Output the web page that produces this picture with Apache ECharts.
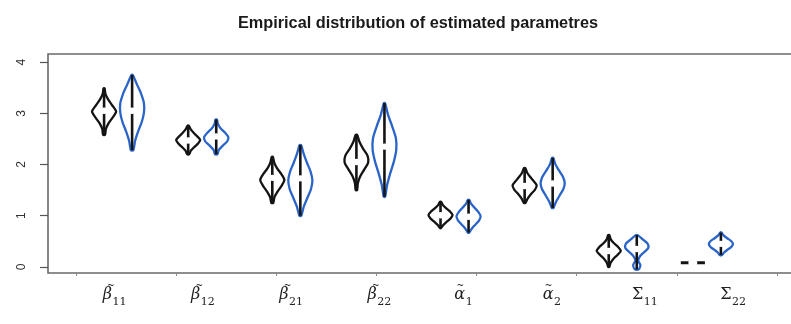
<!DOCTYPE html>
<html>
<head>
<meta charset="utf-8">
<script src="https://cdn.jsdelivr.net/npm/echarts@6/dist/echarts.min.js"></script>
<style>
  html, body { margin: 0; padding: 0; background: #ffffff; overflow: hidden; }
  #chart { width: 830px; height: 324px; }
</style>
</head>
<body>
<div id="chart"></div>
<script>
// Parameter names: symbol, tilde flag and subscript
const paramSymbols = ['β', 'β', 'β', 'β', 'α', 'α', 'Σ', 'Σ'];
const paramTilde = [true, true, true, true, true, true, false, false];
const paramSubs = ['11', '12', '21', '22', '1', '2', '11', '22'];

// x positions of the two estimators for each parameter, and of the labels
const blackAt = [1, 4, 7, 10, 13, 16, 19, 22];
const blueAt = [2, 5, 8, 11, 14, 17, 20, 23];
const labelAt = [1.35, 4.5, 7.65, 10.8, 13.95, 17.1, 20.3, 23.45];

// axis ticks
const yTicks = [0, 1, 2, 3, 4];
const xTicks = [0, 3.571, 7.143, 10.714, 14.286, 17.857, 21.429, 25];

// First estimator (black): range, median and density profile (9 equally spaced levels, low -> high)
const blackLow = [2.58, 2.20, 1.25, 1.50, 0.76, 1.25, 0.00, 0.08];
const blackHigh = [3.49, 2.76, 2.15, 2.58, 1.27, 1.93, 0.62, 0.08];
const blackMedian = [3.05, 2.47, 1.74, 2.05, 1.01, 1.58, 0.31, 0.08];
const blackDensity = [
  [0.08, 0.15, 0.38, 0.72, 1.00, 0.70, 0.36, 0.12, 0.04],
  [0.08, 0.22, 0.50, 0.82, 1.00, 0.75, 0.45, 0.20, 0.05],
  [0.08, 0.18, 0.45, 0.78, 1.00, 0.75, 0.40, 0.16, 0.05],
  [0.06, 0.12, 0.32, 0.66, 0.98, 0.92, 0.55, 0.25, 0.06],
  [0.05, 0.25, 0.55, 0.85, 1.00, 0.80, 0.48, 0.20, 0.05],
  [0.06, 0.25, 0.52, 0.85, 1.00, 0.75, 0.45, 0.20, 0.06],
  [0.05, 0.15, 0.38, 0.72, 1.00, 0.78, 0.42, 0.16, 0.05],
  [1, 1, 1, 1, 1, 1, 1, 1, 1]
];

// Second estimator (blue)
const blueLow = [2.28, 2.20, 1.00, 1.37, 0.67, 1.15, -0.05, 0.23];
const blueHigh = [3.75, 2.88, 2.38, 3.20, 1.31, 2.13, 0.62, 0.67];
const blueMedian = [3.05, 2.55, 1.73, 2.35, 0.98, 1.63, 0.35, 0.45];
const blueDensity = [
  [0.10, 0.25, 0.50, 0.80, 0.98, 0.98, 0.75, 0.40, 0.06],
  [0.10, 0.22, 0.55, 0.92, 1.00, 0.72, 0.36, 0.14, 0.06],
  [0.08, 0.28, 0.58, 0.88, 1.00, 0.85, 0.55, 0.28, 0.06],
  [0.06, 0.22, 0.48, 0.78, 0.98, 0.95, 0.65, 0.30, 0.05],
  [0.05, 0.28, 0.58, 0.88, 1.00, 0.82, 0.52, 0.22, 0.05],
  [0.06, 0.28, 0.58, 0.88, 1.00, 0.85, 0.52, 0.22, 0.05],
  [0.15, 0.30, 0.12, 0.25, 0.60, 0.95, 0.90, 0.50, 0.08],
  [0.08, 0.28, 0.58, 0.88, 1.00, 0.85, 0.52, 0.22, 0.06]
];

const HALF_WIDTH = 0.43; // max half-width of a violin, in x units
const INK = '#141414';
const BLUE = '#2a64c8';

const sets = [
  { at: blackAt, low: blackLow, high: blackHigh, med: blackMedian, dens: blackDensity, color: INK },
  { at: blueAt, low: blueLow, high: blueHigh, med: blueMedian, dens: blueDensity, color: BLUE }
];

const violinData = [];
sets.forEach((s, si) => s.at.forEach((x, i) => violinData.push([x, s.med[i], si, i])));

function renderViolin(params, api) {
  const si = api.value(2), i = api.value(3);
  const s = sets[si];
  const x = s.at[i], lo = s.low[i], hi = s.high[i], d = s.dens[i];
  const n = d.length;
  const left = [], right = [];
  for (let k = 0; k < n; k++) {
    const v = lo + (hi - lo) * k / (n - 1);
    left.push(api.coord([x - HALF_WIDTH * d[k], v]));
    right.push(api.coord([x + HALF_WIDTH * d[k], v]));
  }
  const pts = left.concat(right.reverse());
  const top = api.coord([x, hi]);
  const bot = api.coord([x, lo]);
  const mid = api.coord([x, s.med[i]]);
  const flat = hi === lo;
  const children = [
    {
      type: 'polygon',
      shape: { points: pts, smooth: flat ? 0 : 0.25 },
      style: { fill: 'none', stroke: s.color, lineWidth: flat ? 3 : 2.3 }
    }
  ];
  if (!flat) {
    children.push({
      type: 'line',
      shape: { x1: bot[0], y1: bot[1], x2: top[0], y2: top[1] },
      style: { stroke: INK, lineWidth: 2.6 }
    });
  }
  children.push({
    type: 'circle',
    shape: { cx: mid[0], cy: mid[1], r: flat ? 4.5 : 3.2 },
    style: { fill: '#ffffff' }
  });
  return { type: 'group', children: children };
}

// Label: symbol ends at the anchor, subscript starts there, tilde sits above
const tildeShift = { 'β': -1, 'α': -5 };
function renderLabel(params, api) {
  const i = api.value(1);
  const p = api.coord([api.value(0), -0.12]);
  const ax = p[0] - 2;
  const base = p[1] + 30;
  const sym = paramSymbols[i];
  const children = [
    {
      type: 'text', x: ax, y: base,
      style: {
        text: sym, align: 'right', verticalAlign: 'bottom',
        font: (sym === 'Σ' ? '' : 'italic ') + '16px "DejaVu Serif"', fill: '#222'
      }
    },
    {
      type: 'text', x: ax + 0.5, y: base + 5,
      style: {
        text: paramSubs[i], align: 'left', verticalAlign: 'bottom',
        font: '11px "DejaVu Serif"', fill: '#222'
      }
    }
  ];
  if (paramTilde[i]) {
    children.push({
      type: 'text', x: ax + tildeShift[sym], y: base - 13,
      style: {
        text: '~', align: 'center', verticalAlign: 'bottom',
        font: '9px "DejaVu Serif"', fill: '#222'
      }
    });
  }
  return { type: 'group', children: children };
}

const chart = echarts.init(document.getElementById('chart'), null, { renderer: 'canvas' });
chart.setOption({
  backgroundColor: '#ffffff',
  animation: false,
  title: {
    text: 'Empirical distribution of estimated parametres',
    left: 413,
    top: 11,
    textAlign: 'center',
    textStyle: { fontFamily: 'Liberation Sans', fontWeight: 'bold', fontSize: 16.3, color: '#1a1a1a' }
  },
  grid: {
    left: 48, top: 54, width: 757, height: 219,
    show: true, borderColor: '#6a6a6a', borderWidth: 1.6, backgroundColor: 'transparent'
  },
  xAxis: {
    type: 'value', min: -1, max: 26,
    axisLine: { show: false, onZero: false },
    splitLine: { show: false },
    axisLabel: { show: false },
    axisTick: { show: true, customValues: xTicks, length: 3, lineStyle: { color: '#888', width: 1 } }
  },
  yAxis: {
    type: 'value', min: -0.12, max: 4.16,
    axisLine: { show: false, onZero: false },
    splitLine: { show: false },
    axisTick: { show: true, customValues: yTicks, length: 8, lineStyle: { color: '#555', width: 1.2 } },
    axisLabel: {
      customValues: yTicks,
      rotate: 90,
      margin: 20,
      fontFamily: 'Liberation Sans',
      fontSize: 12,
      color: '#333'
    }
  },
  series: [
    {
      type: 'custom',
      renderItem: renderViolin,
      data: violinData,
      clip: false,
      z: 3
    },
    {
      type: 'custom',
      renderItem: renderLabel,
      data: labelAt.map((x, i) => [x, i]),
      clip: false,
      z: 4
    }
  ]
});
</script>
</body>
</html>
